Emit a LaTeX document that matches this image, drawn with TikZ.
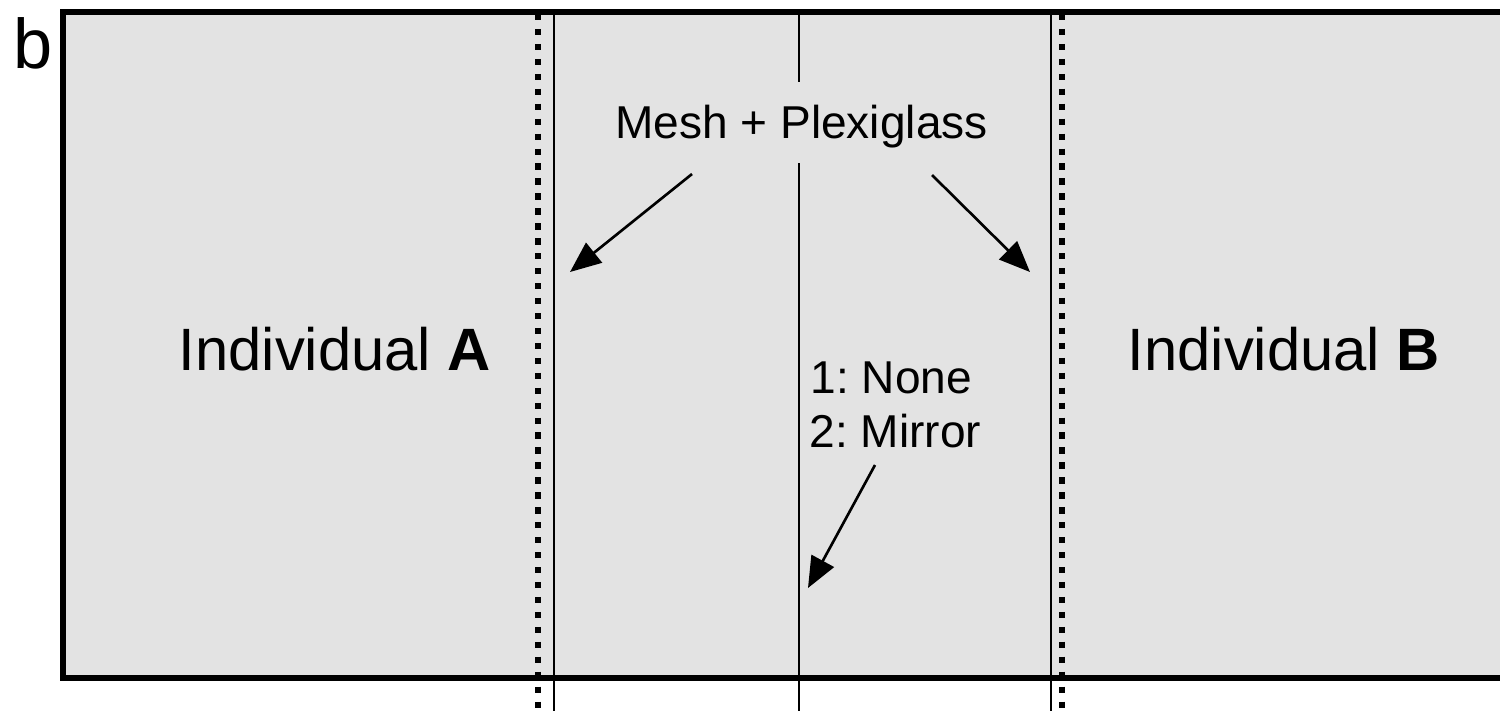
\documentclass[tikz,border=0pt]{standalone}
\usepackage{fontspec}
\setmainfont{Liberation Sans}
\usetikzlibrary{arrows.meta}
\definecolor{panelgray}{RGB}{227,227,227}
\frenchspacing

\begin{document}
\begin{tikzpicture}[x=0.01cm,y=-0.01cm,>={Triangle[length=8.8pt,width=7.2pt]},
 lbl/.style={inner sep=0pt,font=\fontsize{13.1}{15.4}\selectfont},
 big/.style={inner sep=0pt,font=\fontsize{17}{20}\selectfont},
 wall/.style={line width=0.6pt},
 meshline/.style={line width=1.8pt,dash pattern=on 1.8pt off 2.45pt},
 pointer/.style={->,line width=0.75pt}]
\useasboundingbox (0,0) rectangle (1500,711);
% arena
\fill[panelgray] (63,12) rectangle (1500,678);
\draw[line width=1.45pt] (1500,12) -- (63,12) -- (63,678) -- (1500,678);
\node[inner sep=0pt,anchor=base west,font=\fontsize{20}{24}\selectfont] (panel) at (13,68) {b};
% partitions
\foreach \x in {538,1062} \draw[meshline] (\x,14) -- (\x,711);
\foreach \x in {554,1051} \draw[wall] (\x,12) -- (\x,711);
\draw[wall] (799,12) -- (799,82);
\draw[wall] (799,163) -- (799,711);
% labels
\node[big,anchor=base west] (indA) at (178,370) {Individual \textbf{A}};
\node[big,anchor=base west] (indB) at (1127,370) {Individual \textbf{B}};
\node[lbl,anchor=base] (mesh) at (801.5,138) {Mesh + Plexiglass};
\node[lbl,anchor=base west] (none) at (810,393) {1: None};
\node[lbl,anchor=base west] (mirror) at (809,447) {2: Mirror};
% arrows
\coordinate (meshL) at (692,174);
\coordinate (meshR) at (932,175);
\coordinate (mirrorS) at (875,465);
\coordinate (tipL) at (570,272);
\coordinate (tipR) at (1030,272);
\coordinate (tipM) at (808,588);
\foreach \a/\b in {meshL/tipL,meshR/tipR,mirrorS/tipM} \draw[pointer] (\a) -- (\b);
\end{tikzpicture}
\end{document}
